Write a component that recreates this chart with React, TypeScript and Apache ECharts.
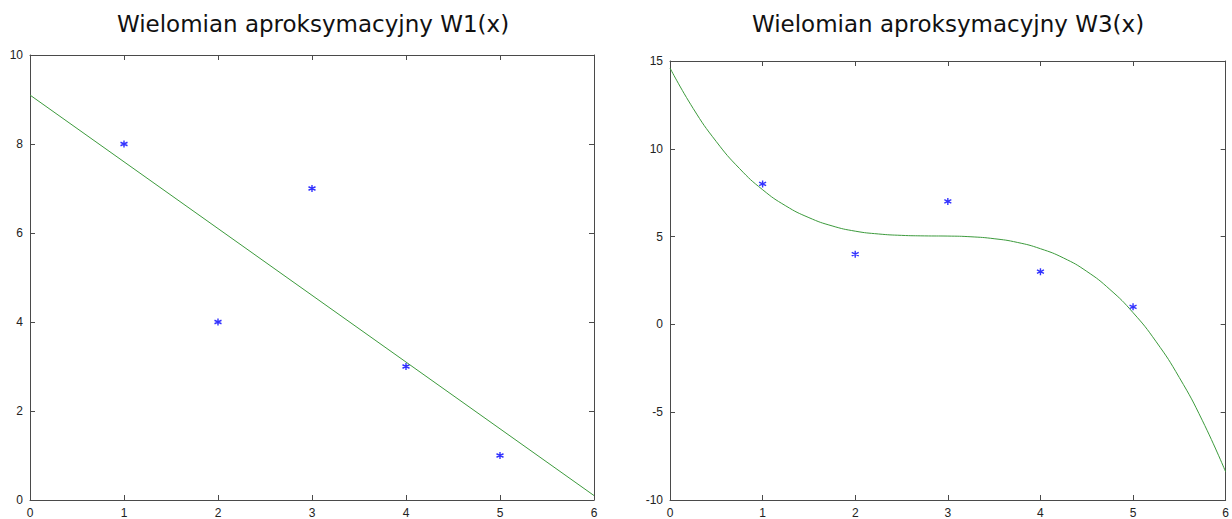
import React, { useEffect, useRef } from "react";
import * as echarts from "echarts";

const pointsX = [1, 2, 3, 4, 5];
const pointsY = [8, 4, 7, 3, 1];

const w1X = [0, 6];
const w1Y = [9.1, 0.1];

const w3X = [0, 0.25, 0.5, 0.75, 1, 1.25, 1.5, 1.75, 2, 2.25, 2.5, 2.75, 3, 3.25, 3.5, 3.75, 4, 4.25, 4.5, 4.75, 5, 5.25, 5.5, 5.75, 6];
const w3Y = [14.6, 12.3, 10.41, 8.88, 7.67, 6.75, 6.08, 5.61, 5.31, 5.15, 5.07, 5.04, 5.03, 4.99, 4.88, 4.67, 4.31, 3.78, 3.02, 1.99, 0.67, -0.99, -3.03, -5.49, -8.4];

const titles = ["Wielomian aproksymacyjny W1(x)", "Wielomian aproksymacyjny W3(x)"];
const xTicks = [0, 1, 2, 3, 4, 5, 6];
const yRangeLeft = { min: 0, max: 10, interval: 2 };
const yRangeRight = { min: -10, max: 15, interval: 5 };

const frameColor = "#4a4a4a";
const lineColor = "#3c9a3c";
const markerColor = "#0000ff";
const asterisk = "path://M0,-4L0,4M-3.5,-2L3.5,2M-3.5,2L3.5,-2";

function zip(a: number[], b: number[]) {
  return a.map((v, i) => [v, b[i]]);
}

export default function App() {
  const ref = useRef<HTMLDivElement>(null);
  useEffect(() => {
    if (!ref.current) return;
    const chart = echarts.init(ref.current, undefined, { renderer: "svg" });
    const grids = [
      { left: 30, top: 55, width: 564, height: 445 },
      { left: 670, top: 61, width: 558, height: 439 },
    ];
    const axisLineStyle = { show: true, onZero: false, lineStyle: { color: frameColor, width: 1 } };
    const tickStyle = { show: true, inside: true, length: 5, lineStyle: { color: frameColor, width: 1 } };
    const labelStyle = { color: "#222", fontSize: 12, fontFamily: "Liberation Sans, Arial, sans-serif" };
    const xAxes: any[] = [];
    const yAxes: any[] = [];
    [0, 1].forEach((g) => {
      const yr = g === 0 ? yRangeLeft : yRangeRight;
      xAxes.push({
        type: "value", gridIndex: g, min: xTicks[0], max: xTicks[xTicks.length - 1], interval: 1,
        position: "bottom", axisLine: axisLineStyle, axisTick: tickStyle,
        axisLabel: { ...labelStyle, margin: 7 }, splitLine: { show: false },
      });
      xAxes.push({
        type: "value", gridIndex: g, min: xTicks[0], max: xTicks[xTicks.length - 1], interval: 1,
        position: "top", axisLine: axisLineStyle, axisTick: tickStyle,
        axisLabel: { show: false }, splitLine: { show: false },
      });
      yAxes.push({
        type: "value", gridIndex: g, min: yr.min, max: yr.max, interval: yr.interval,
        position: "left", axisLine: axisLineStyle, axisTick: tickStyle,
        axisLabel: { ...labelStyle, margin: 7 }, splitLine: { show: false },
      });
      yAxes.push({
        type: "value", gridIndex: g, min: yr.min, max: yr.max, interval: yr.interval,
        position: "right", axisLine: axisLineStyle, axisTick: tickStyle,
        axisLabel: { show: false }, splitLine: { show: false },
      });
    });
    const titleStyle = { textAlign: "center", textVerticalAlign: "middle", fontSize: 23, fontFamily: "DejaVu Sans, sans-serif", fill: "#111" };
    chart.setOption({
      animation: false,
      backgroundColor: "#ffffff",
      grid: grids,
      xAxis: xAxes,
      yAxis: yAxes,
      graphic: [
        { type: "text", x: 313, y: 24, style: { ...titleStyle, text: titles[0] } },
        { type: "text", x: 948, y: 24, style: { ...titleStyle, text: titles[1] } },
      ],
      series: [
        { type: "line", xAxisIndex: 0, yAxisIndex: 0, data: zip(w1X, w1Y), showSymbol: false, lineStyle: { color: lineColor, width: 1 }, silent: true },
        { type: "scatter", xAxisIndex: 0, yAxisIndex: 0, data: zip(pointsX, pointsY), symbol: asterisk, symbolSize: 7, itemStyle: { color: "none", borderColor: markerColor, borderWidth: 1.4 } },
        { type: "line", xAxisIndex: 2, yAxisIndex: 2, data: zip(w3X, w3Y), showSymbol: false, smooth: true, lineStyle: { color: lineColor, width: 1 }, silent: true },
        { type: "scatter", xAxisIndex: 2, yAxisIndex: 2, data: zip(pointsX, pointsY), symbol: asterisk, symbolSize: 7, itemStyle: { color: "none", borderColor: markerColor, borderWidth: 1.4 } },
      ],
    });
    return () => chart.dispose();
  }, []);
  return <div ref={ref} style={{ position: "fixed", left: 0, top: 0, width: 1232, height: 519 }} />;
}
